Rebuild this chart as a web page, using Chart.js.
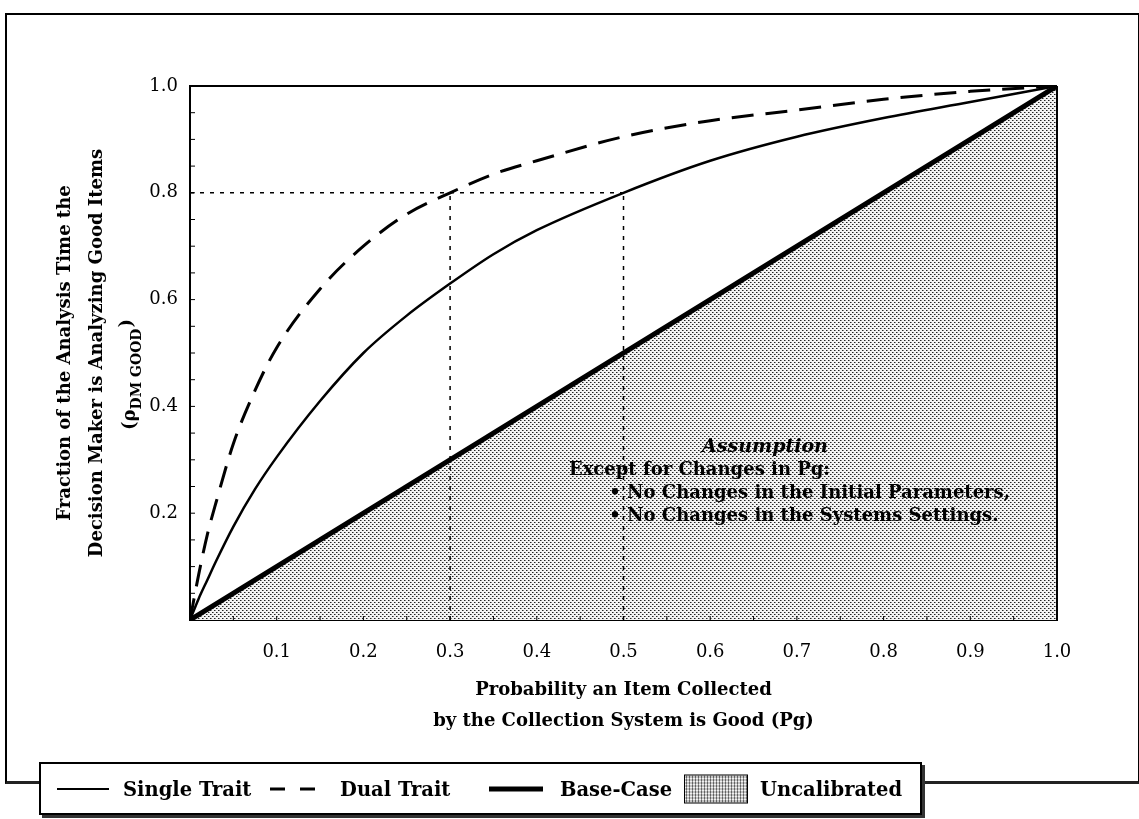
<!DOCTYPE html>
<html>
<head>
<meta charset="utf-8">
<script src="https://cdn.jsdelivr.net/npm/chart.js@4.4.0/dist/chart.umd.min.js"></script>
<style>
  body { margin: 0; background: #fff; }
  #wrap { position: relative; width: 1139px; height: 819px; overflow: hidden; font-family: "DejaVu Serif", serif; }
  #frame { position: absolute; left: 5px; top: 13px; width: 1131px; height: 766px; border: 2px solid #000; border-bottom: 3px solid #222; }
  #bars { position: absolute; left: 0; top: 0; }
  #legend { position: absolute; left: 39px; top: 762px; width: 879px; height: 49px; border: 2px solid #000; background: #fff;
    box-shadow: 3px 3px 0 #333; font-weight: bold; font-size: 19.5px; color: #000; }
  #legend > span { position: absolute; top: 50%; transform: translateY(-50%); white-space: nowrap; }
  .solid { height: 2px; background: #000; }
  .dash { height: 3px; background: repeating-linear-gradient(90deg, #000 0 15px, transparent 15px 30px); }
  .thick { height: 5px; background: #000; }
  .box { height: 27px; border: 1px solid #000;
    background-color: #f2f2f2; background-image: radial-gradient(#333 0.9px, transparent 1.1px); background-size: 3px 3px; }
</style>
</head>
<body>
<div id="wrap">
  <div id="frame"></div>
  <canvas id="bars" width="1139" height="819"></canvas>
  <div id="legend">
    <span class="solid" style="left:16px;width:52px"></span><span style="left:82px">Single Trait</span>
    <span class="dash" style="left:229px;width:45px"></span><span style="left:299px">Dual Trait</span>
    <span class="thick" style="left:448px;width:54px"></span><span style="left:519px">Base-Case</span>
    <span class="box" style="left:643px;width:62px"></span><span style="left:719px">Uncalibrated</span>
  </div>
</div>
<script>
// valores
const pg = [0, 0.01, 0.02, 0.03, 0.05, 0.075, 0.1, 0.15, 0.2, 0.25, 0.3, 0.35, 0.4, 0.5, 0.6, 0.7, 0.8, 0.9, 1.0];
const singleTrait = [0, 0.04, 0.075, 0.11, 0.175, 0.245, 0.305, 0.41, 0.5, 0.57, 0.63, 0.685, 0.73, 0.8, 0.86, 0.905, 0.94, 0.97, 1.0];
const dualTrait = [0, 0.085, 0.16, 0.22, 0.33, 0.43, 0.51, 0.62, 0.7, 0.76, 0.8, 0.835, 0.86, 0.905, 0.935, 0.955, 0.975, 0.99, 1.0];
const basePg = [0, 1];
const baseCase = [0, 1];
const guidePg = [0.3, 0.5];
const guideLevel = 0.8;
const xTicks = [0.1, 0.2, 0.3, 0.4, 0.5, 0.6, 0.7, 0.8, 0.9, 1.0];
const yTicks = [0.2, 0.4, 0.6, 0.8, 1.0];

const serif = '"DejaVu Serif", serif';

function pts(xs, ys) { return xs.map((x, i) => ({ x: x, y: ys[i] })); }

// patron punteado para la zona no calibrada
function dotPattern() {
    const c = document.createElement('canvas');
    c.width = 4; c.height = 4;
    const g = c.getContext('2d');
    g.fillStyle = '#f3f3f3';
    g.fillRect(0, 0, 4, 4);
    g.fillStyle = '#222';
    g.fillRect(0, 0, 1, 1);
    g.fillRect(2, 2, 1, 1);
    g.fillStyle = '#888';
    g.fillRect(1, 0, 1, 1);
    g.fillRect(3, 2, 1, 1);
    return g.createPattern(c, 'repeat');
}

const guideStyle = { borderColor: '#000', borderWidth: 1.5, borderDash: [4, 6], pointRadius: 0, fill: false };

const frameAndText = {
    id: 'frameAndText',
    afterDatasetsDraw(chart) {
        const ctx = chart.ctx, a = chart.chartArea;
        const xs = chart.scales.x, ys = chart.scales.y;
        ctx.save();
        ctx.strokeStyle = '#000';
        ctx.lineWidth = 2;
        ctx.beginPath();
        ctx.moveTo(a.left, a.top); ctx.lineTo(a.right, a.top);
        ctx.moveTo(a.right, a.top); ctx.lineTo(a.right, a.bottom);
        ctx.stroke();
        // marcas menores hacia dentro
        ctx.lineWidth = 1;
        ctx.beginPath();
        for (let v = 0.05; v < 1; v += 0.05) {
            const py = ys.getPixelForValue(v);
            ctx.moveTo(a.left, py); ctx.lineTo(a.left + 5, py);
            const px = xs.getPixelForValue(v);
            ctx.moveTo(px, a.bottom); ctx.lineTo(px, a.bottom - 4);
        }
        ctx.stroke();

        ctx.fillStyle = '#000';
        // titulo del eje x
        const cx = (a.left + a.right) / 2;
        ctx.textAlign = 'center';
        ctx.textBaseline = 'middle';
        ctx.font = 'bold 18px ' + serif;
        ctx.fillText('Probability an Item Collected', cx, 690);
        ctx.fillText('by the Collection System is Good (Pg)', cx, 721);

        // titulo del eje y
        ctx.save();
        const cy = (a.top + a.bottom) / 2;
        ctx.translate(65, cy);
        ctx.rotate(-Math.PI / 2);
        ctx.font = 'bold 18px ' + serif;
        ctx.textAlign = 'center';
        ctx.fillText('Fraction of the Analysis Time the', 0, 0);
        ctx.fillText('Decision Maker is Analyzing Good Items', 0, 32);
        const p1 = '(\u03C1', sub = 'DM GOOD', p2 = ')';
        const w1 = ctx.measureText(p1).width, w3 = ctx.measureText(p2).width;
        ctx.font = 'bold 14px ' + serif;
        const w2 = ctx.measureText(sub).width;
        let sx = -(w1 + w2 + w3) / 2 - 22;
        ctx.textAlign = 'left';
        ctx.font = 'bold 18px ' + serif;
        ctx.fillText(p1, sx, 65);
        ctx.font = 'bold 14px ' + serif;
        ctx.fillText(sub, sx + w1, 72);
        ctx.font = 'bold 18px ' + serif;
        ctx.fillText(p2, sx + w1 + w2 + 1, 62);
        ctx.restore();

        // supuesto
        ctx.textAlign = 'center';
        ctx.font = 'bold italic 19px ' + serif;
        ctx.fillText('Assumption', 765, 447);
        ctx.font = 'bold 18px ' + serif;
        ctx.textAlign = 'right';
        ctx.fillText('Except for Changes in Pg:', 830, 470);
        const b1 = '\u2022 No Changes in the Initial Parameters,';
        const bx = 1010 - ctx.measureText(b1).width;
        ctx.textAlign = 'left';
        ctx.fillText(b1, bx, 493);
        ctx.fillText('\u2022 No Changes in the Systems Settings.', bx, 516);
        ctx.restore();
    }
};

document.addEventListener('DOMContentLoaded', function() {
    const barsCtx = document.getElementById('bars');

    const chartConfig = {
        type: 'line',
        data: {
            datasets: [
                Object.assign({ label: 'guide h', data: pts([0, guidePg[1]], [guideLevel, guideLevel]) }, guideStyle),
                Object.assign({ label: 'guide 0.3', data: pts([guidePg[0], guidePg[0]], [0, guideLevel]) }, guideStyle),
                Object.assign({ label: 'guide 0.5', data: pts([guidePg[1], guidePg[1]], [0, guideLevel]) }, guideStyle),
                {
                    label: 'Dual Trait',
                    data: pts(pg, dualTrait),
                    borderColor: '#000',
                    borderWidth: 3,
                    borderDash: [22, 12],
                    cubicInterpolationMode: 'monotone',
                    pointRadius: 0,
                    fill: false
                },
                {
                    label: 'Single Trait',
                    data: pts(pg, singleTrait),
                    borderColor: '#000',
                    borderWidth: 2.5,
                    cubicInterpolationMode: 'monotone',
                    pointRadius: 0,
                    fill: false
                },
                {
                    label: 'Base-Case',
                    data: pts(basePg, baseCase),
                    borderColor: '#000',
                    borderWidth: 5,
                    pointRadius: 0,
                    backgroundColor: dotPattern(),
                    fill: 'origin'
                }
            ]
        },
        options: {
            responsive: false,
            animation: false,
            layout: { padding: { top: 86, right: 82, left: 0, bottom: 0 } },
            plugins: { legend: { display: false }, tooltip: { enabled: false } },
            scales: {
                x: {
                    type: 'linear',
                    min: 0, max: 1,
                    afterFit: s => { s.height = 199; },
                    afterBuildTicks: s => { s.ticks = xTicks.map(v => ({ value: v })); },
                    grid: { display: false, drawTicks: false },
                    border: { display: true, color: '#000', width: 2 },
                    ticks: {
                        padding: 22,
                        color: '#000',
                        font: { family: serif, size: 18 },
                        callback: v => v.toFixed(1)
                    }
                },
                y: {
                    type: 'linear',
                    min: 0, max: 1,
                    afterFit: s => { s.width = 190; },
                    afterBuildTicks: s => { s.ticks = yTicks.map(v => ({ value: v })); },
                    grid: { display: false, drawTicks: false },
                    border: { display: true, color: '#000', width: 2 },
                    ticks: {
                        padding: 12,
                        color: '#000',
                        font: { family: serif, size: 18 },
                        callback: v => v.toFixed(1)
                    }
                }
            }
        },
        plugins: [frameAndText]
    };

    window.myChart = new Chart(barsCtx, chartConfig);
});
</script>
</body>
</html>
